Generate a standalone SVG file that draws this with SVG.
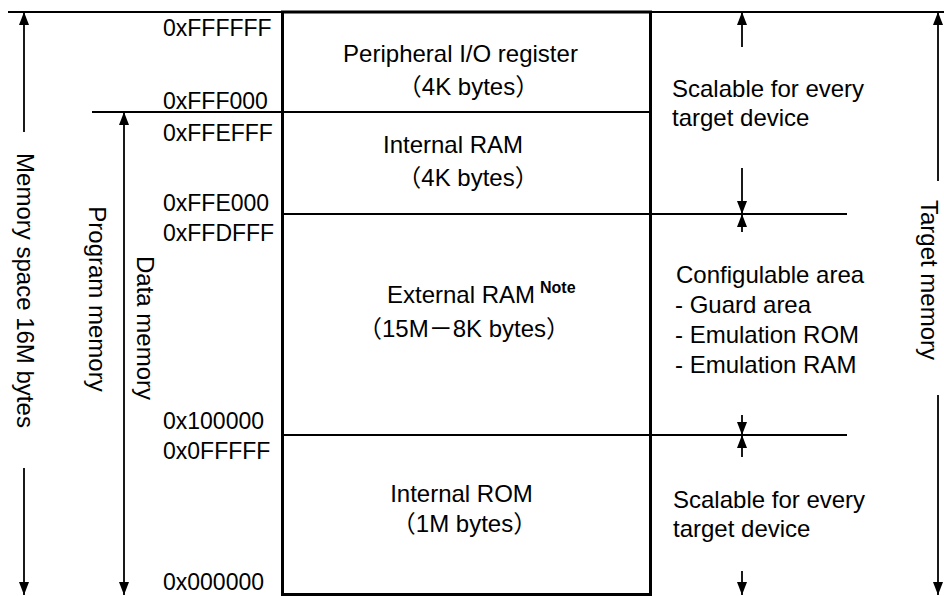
<svg xmlns="http://www.w3.org/2000/svg" width="944" height="596" viewBox="0 0 944 596">
<style>
  text { font-family: "Liberation Sans", Arial, "Noto Sans CJK JP", sans-serif; fill: #000; }
  .lbl { font-size: 24px; }
  .hex { font-size: 23px; }
  .mid { text-anchor: middle; }
  .note { font-size: 16px; font-weight: bold; }
  .box { fill: #fff; stroke: #000; stroke-width: 3; }
  .div { stroke: #000; stroke-width: 2; fill: none; }
  .dim { stroke: #000; stroke-width: 1.8; fill: none; }
  .a1 { marker-end: url(#ah); }
  .a2 { marker-start: url(#ah); marker-end: url(#ah); }
</style>
<defs>
  <marker id="ah" viewBox="0 0 13 10" refX="13" refY="5" markerWidth="13" markerHeight="10" markerUnits="userSpaceOnUse" orient="auto-start-reverse">
    <path d="M0,0 L13,5 L0,10 z" fill="#000"/>
  </marker>
</defs>
<rect width="944" height="596" fill="#fff"/>

<g id="memory-map">
  <rect class="box" x="282.5" y="12" width="368" height="582.5"/>
</g>

<g id="region-peripheral-io">
  <text class="lbl mid" x="460.5" y="62">Peripheral I/O register</text>
  <text class="lbl mid" x="468.5" y="95">（4K bytes）</text>
</g>
<g id="region-internal-ram">
  <text class="lbl mid" x="453" y="153">Internal RAM</text>
  <text class="lbl mid" x="468" y="186">（4K bytes）</text>
</g>
<g id="region-external-ram">
  <text class="lbl" x="387" y="303">External RAM</text>
  <text class="note" x="540" y="293">Note</text>
  <text class="lbl mid" x="464" y="337">（15M－8K bytes）</text>
</g>
<g id="region-internal-rom">
  <text class="lbl mid" x="461.5" y="502">Internal ROM</text>
  <text class="lbl mid" x="464.5" y="532">（1M bytes）</text>
</g>

<g id="addresses">
  <text class="hex" x="163" y="36">0xFFFFFF</text>
  <text class="hex" x="163" y="109">0xFFF000</text>
  <text class="hex" x="163" y="141">0xFFEFFF</text>
  <text class="hex" x="163" y="211">0xFFE000</text>
  <text class="hex" x="163" y="241">0xFFDFFF</text>
  <text class="hex" x="163" y="429">0x100000</text>
  <text class="hex" x="163" y="459">0x0FFFFF</text>
  <text class="hex" x="163" y="590">0x000000</text>
</g>

<g id="side-labels">
  <text class="lbl mid" transform="rotate(90 16.5 290.5)" x="16.5" y="290.5">Memory space 16M bytes</text>
  <text class="lbl mid" transform="rotate(90 89 299)" x="89" y="299">Program memory</text>
  <text class="lbl mid" transform="rotate(90 137 328)" x="137" y="328">Data memory</text>
  <text class="lbl mid" transform="rotate(90 921 280)" x="921" y="280">Target memory</text>
</g>

<g id="notes-right">
  <text class="lbl" x="672" y="97">Scalable for every</text>
  <text class="lbl" x="672" y="126">target device</text>
  <text class="lbl" x="676" y="283">Configulable area</text>
  <text class="lbl" x="675" y="313">- Guard area</text>
  <text class="lbl" x="675" y="343">- Emulation ROM</text>
  <text class="lbl" x="675" y="373">- Emulation RAM</text>
  <text class="lbl" x="673" y="508">Scalable for every</text>
  <text class="lbl" x="673" y="537">target device</text>
</g>

<g id="connectors">
  <line class="div" x1="8" y1="12" x2="944" y2="12"/>
  <line class="div" x1="92" y1="112" x2="650" y2="112"/>
  <line class="div" x1="282" y1="214" x2="847" y2="214"/>
  <line class="div" x1="282" y1="435" x2="847" y2="435"/>
  <line class="dim a1" x1="24" y1="132" x2="24" y2="12"/>
  <line class="dim a1" x1="24" y1="468" x2="24" y2="595"/>
  <line class="dim a2" x1="124" y1="112" x2="124" y2="595"/>
  <line class="dim a1" x1="938" y1="181" x2="938" y2="12"/>
  <line class="dim a1" x1="938" y1="395" x2="938" y2="595"/>
  <line class="dim a1" x1="742" y1="47" x2="742" y2="12"/>
  <line class="dim a1" x1="742" y1="168" x2="742" y2="214"/>
  <line class="dim a1" x1="742" y1="232" x2="742" y2="214"/>
  <line class="dim a1" x1="742" y1="415" x2="742" y2="435"/>
  <line class="dim a1" x1="742" y1="457" x2="742" y2="435"/>
  <line class="dim a1" x1="742" y1="571" x2="742" y2="595"/>
</g>
</svg>
